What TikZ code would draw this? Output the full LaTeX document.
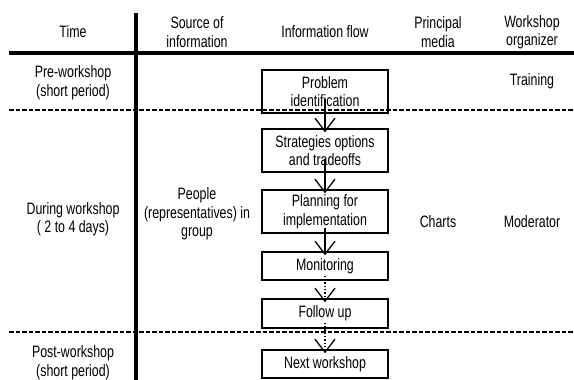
\documentclass[tikz,border=0pt]{standalone}
\usepackage{fontspec}
\setmainfont[FakeStretch=0.75]{Liberation Sans}
\begin{document}
\begin{tikzpicture}[x=1pt,y=-1pt,
  every node/.style={font=\fontsize{16.5}{18.5}\selectfont, align=center, inner sep=0pt},
  flowbox/.style={draw, line width=1.6pt, minimum width=126pt},
  thickrule/.style={line width=4pt},
  dashrule/.style={line width=2pt, dash pattern=on 4.5pt off 2pt},
  arr/.style={line width=1.3pt, shorten >=-3pt},
  dotarr/.style={arr, dotted},
  vee/.pic={\draw[line width=1.3pt, line join=miter] (-10,-13) -- (0,0) -- (10,-13);}]
\useasboundingbox (0,0) rectangle (574,380);
% grid lines
\coordinate (hl) at (9,53);
\coordinate (hr) at (574,53);
\coordinate (vt) at (136,13);
\coordinate (vb) at (136,380);
\coordinate (d1l) at (9,110);
\coordinate (d1r) at (574,110);
\coordinate (d2l) at (9,332);
\coordinate (d2r) at (574,332);
\draw[thickrule] (hl) -- (hr);
\draw[thickrule] (vt) -- (vb);
\draw[dashrule] (d1l) -- (d1r);
\draw[dashrule] (d2l) -- (d2r);
% headers
\node (h1) at (73,32) {Time};
\node (h2) at (197,32) {Source of\\information};
\node (h3) at (325,32) {Information flow};
\node (h4) at (438,32) {Principal\\media};
\node (h5) at (532,32) {Workshop\\organizer};
% row labels
\node (t1) at (73,82.5) {Pre-workshop\\(short period)};
\node (t2) at (73,219) {During workshop\\( 2 to 4 days)};
\node (t3) at (73,362.5) {Post-workshop\\(short period)};
\node (s1) at (197,214) {People\\(representatives) in\\group};
\node (m1) at (438,222) {Charts};
\node (o1) at (532,81) {Training};
\node (o2) at (532,222) {Moderator};
% flow boxes
\node[flowbox, minimum height=43pt] (pi) at (325,91.5) {Problem\\identification};
\node[flowbox, minimum height=43pt] (so) at (325,150.5) {Strategies options\\and tradeoffs};
\node[flowbox, minimum height=43pt] (pl) at (325,211.5) {Planning for\\implementation};
\node[flowbox, minimum height=28pt] (mo) at (325,266) {Monitoring};
\node[flowbox, minimum height=29pt] (fu) at (325,313.5) {Follow up};
\node[flowbox, minimum height=28pt] (nw) at (325,364) {Next workshop};
% connectors
\draw[arr] ([yshift=15pt]pi.south) -- (so.north);
\draw[arr] ([yshift=14pt]so.south) -- (pl.north);
\draw[arr] ([yshift=6pt]pl.south) -- (mo.north);
\draw[dotarr] ([yshift=5pt]mo.south) -- (fu.north);
\draw[dotarr] ([yshift=6pt]fu.south) -- (nw.north);
% arrowheads
\path ([yshift=-3pt]so.north) pic {vee};
\path ([yshift=-3pt]pl.north) pic {vee};
\path ([yshift=-3pt]mo.north) pic {vee};
\path ([yshift=-3pt]fu.north) pic {vee};
\path ([yshift=-3pt]nw.north) pic {vee};
\end{tikzpicture}
\end{document}
